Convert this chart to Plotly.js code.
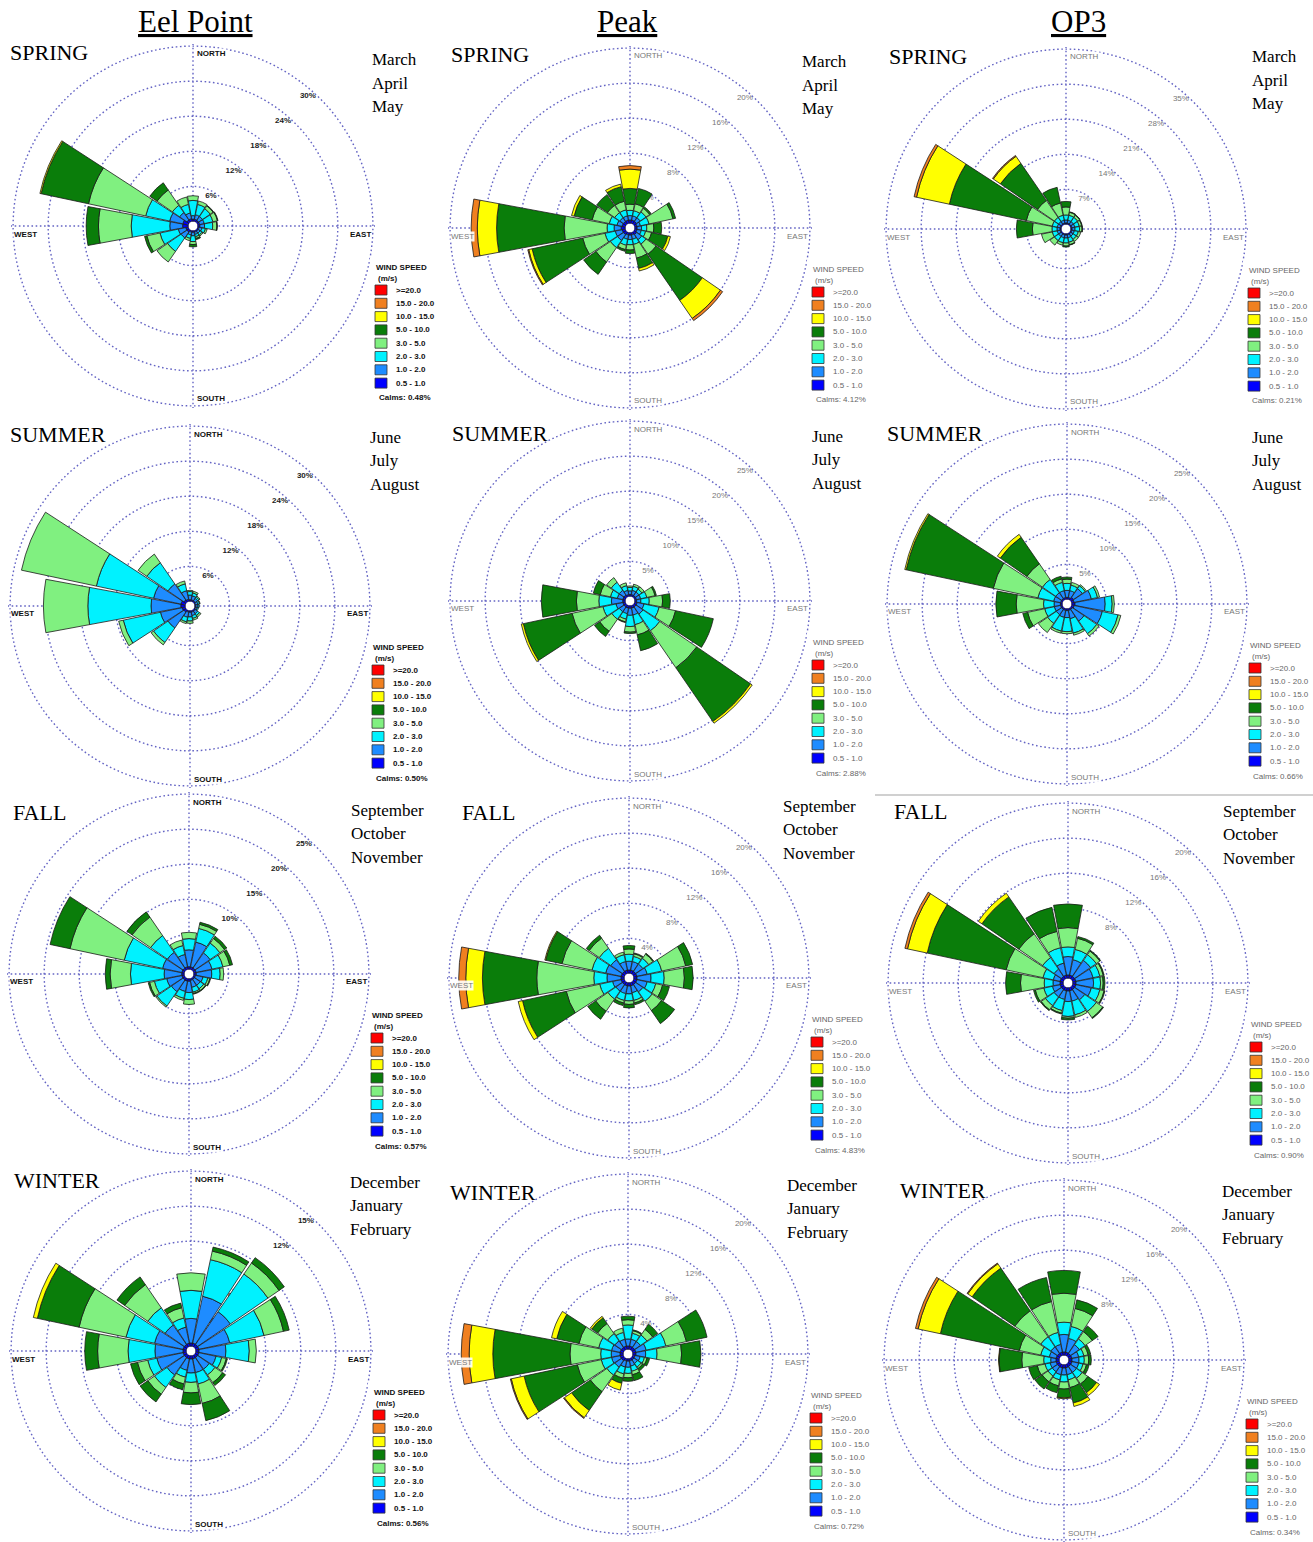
<!DOCTYPE html>
<html><head><meta charset="utf-8">
<script src="https://cdn.plot.ly/plotly-3.0.1.min.js"></script>
<style>html,body{margin:0;padding:0;background:#fff}#chart{width:1313px;height:1542px}</style>
</head><body><div id="chart"></div>
<script>
// 16 compass directions (clockwise from north)
const directions = ['N','NNE','NE','ENE','E','ESE','SE','SSE','S','SSW','SW','WSW','W','WNW','NW','NNW'];
const directionAngles = [0,22.5,45,67.5,90,112.5,135,157.5,180,202.5,225,247.5,270,292.5,315,337.5];
// wind speed classes (m/s), lowest first
const speedBins = ['0.5 - 1.0','1.0 - 2.0','2.0 - 3.0','3.0 - 5.0','5.0 - 10.0','10.0 - 15.0','15.0 - 20.0','>=20.0'];
const speedColors = ['#0000ff','#1e8cff','#00f2ff','#80f080','#0a7d0a','#ffff00','#f08020','#ff0000'];

// frequency (%) per direction row: [0.5-1, 1-2, 2-3, 3-5, 5-10, 10-15, 15-20, >=20]
const eelSpring = [
 [.4,.6,2.6,.8,0,0,0,0],[.4,.8,1.8,.6,0,0,0,0],[.4,.8,1.6,.6,.1,0,0,0],[.4,.8,1.5,.8,.1,0,0,0],
 [.4,.8,1.4,.7,.1,0,0,0],[.3,.5,.6,.3,0,0,0,0],[.3,.4,.4,.2,0,0,0,0],[.3,.4,.4,.3,.2,0,0,0],
 [.3,.6,1.0,.5,.4,0,0,0],[.3,.5,.6,.4,0,0,0,0],[.5,1.2,2.8,2.2,0,0,0,0],[.5,1.3,3.2,2.3,.4,0,0,0],
 [1.0,2.2,6.6,5.6,2.1,0,0,0],[1.0,2.3,4.2,10.0,8.3,.2,0,0],[.5,1.5,1.5,3.2,1.5,0,0,0],[.5,1.0,1.5,1.3,0,0,0,0]];
const peakSpring = [
 [.4,.5,.6,.7,1.8,2.2,.4,0],[.4,.5,.6,.8,1.8,0,0,0],[.4,.5,.8,.5,.2,0,0,0],[.3,.4,1.0,2.8,.3,0,0,0],
 [.3,.5,.6,.8,.9,0,0,0],[.3,.5,.5,.7,1.9,.3,0,0],[.4,.7,.6,1.4,6.4,2.5,.3,0],[.3,.5,.6,1.6,1.2,.3,0,0],
 [.3,.5,.6,.6,.4,0,0,0],[.3,.5,.7,.5,.2,0,0,0],[.4,.8,1.0,2.0,1.7,0,0,0],[.4,.8,1.2,2.6,5.9,.4,.1,0],
 [.5,.8,.8,4.9,7.7,2.2,.7,0],[.4,.6,.9,2.0,2.1,.3,0,0],[.4,.5,.7,1.0,1.5,0,0,0],[.4,.5,.7,1.0,1.7,.3,0,0]];
const op3Spring = [
 [.3,.6,1.0,1.6,1.1,0,0,0],[.3,.6,1.0,.6,.1,0,0,0],[.3,.6,1.0,.5,.1,0,0,0],[.3,.6,.9,.5,.1,0,0,0],
 [.3,.6,.9,.5,.1,0,0,0],[.3,.5,.8,.5,0,0,0,0],[.3,.5,.8,.5,0,0,0,0],[.3,.6,.9,.5,.1,0,0,0],
 [.3,.6,1.0,.6,.2,0,0,0],[.3,.6,1.0,.5,0,0,0,0],[.3,.6,1.0,1.1,0,0,0,0],[.3,.6,1.0,2.2,0,0,0,0],
 [.3,.6,1.0,3.9,3.2,0,0,0],[.3,.6,1.0,5.3,15.7,6.7,.5,0],[.3,.6,1.0,4.1,9.0,1.7,.2,0],[.3,.6,1.0,2.5,3.2,0,0,0]];
const eelSummer = [
 [.3,.8,.6,.2,0,0,0,0],[.3,.7,.5,.3,0,0,0,0],[.3,.5,.3,.2,0,0,0,0],[.2,.4,.3,.1,0,0,0,0],
 [.2,.4,.2,0,0,0,0,0],[.2,.3,.2,0,0,0,0,0],[.3,.5,.4,.3,0,0,0,0],[.3,.6,.5,.3,0,0,0,0],
 [.3,.8,.7,.4,0,0,0,0],[.3,.9,.8,.3,0,0,0,0],[.5,3.3,3.0,.5,0,0,0,0],[.6,3.8,6.5,.8,0,0,0,0],
 [.8,5.1,10.8,7.6,0,0,0,0],[.8,4.8,10.0,13.1,0,0,0,0],[.5,3.3,4.4,1.8,0,0,0,0],[.4,1.5,1.2,.5,0,0,0,0]];
const peakSummer = [
 [.3,.5,.5,.2,0,0,0,0],[.3,.6,.6,.3,0,0,0,0],[.3,.6,.5,.4,0,0,0,0],[.3,.6,.9,1.2,.2,0,0,0],
 [.3,.6,1.2,1.9,1.1,0,0,0],[.4,1.0,2.2,2.4,5.5,0,0,0],[.4,1.2,2.9,6.4,9.3,.3,0,0],[.4,1.0,1.4,1.5,2.3,0,0,0],
 [.4,1.0,1.6,.8,.2,0,0,0],[.4,.8,.8,.4,.1,0,0,0],[.4,.8,1.3,2.1,.9,0,0,0],[.4,1.0,1.9,4.5,7.1,.3,0,0],
 [.4,1.6,1.8,3.2,5.0,0,0,0],[.4,.8,1.0,1.5,1.0,0,0,0],[.4,.8,1.4,.8,0,0,0,0],[.3,.6,.7,.4,0,0,0,0]];
const op3Summer = [
 [.3,1.0,1.0,.6,.3,0,0,0],[.3,1.0,.8,.4,0,0,0,0],[.5,1.5,.5,.2,0,0,0,0],[.4,2.5,.9,.3,0,0,0,0],
 [.5,4.3,1.0,.3,0,0,0,0],[.4,4.1,2.3,.4,0,0,0,0],[.3,2.0,2.2,.4,0,0,0,0],[.3,1.2,2.1,.3,0,0,0,0],
 [.3,1.0,2.0,.3,0,0,0,0],[.3,1.0,2.0,.3,0,0,0,0],[.3,.9,1.5,1.6,0,0,0,0],[.3,.9,1.4,2.5,.7,0,0,0],
 [.3,.9,1.5,3.9,2.9,0,0,0],[.3,1.0,2.3,6.5,12.7,.2,0,0],[.3,1.0,2.3,2.7,4.6,.5,0,0],[.3,1.0,1.2,.5,.4,0,0,0]];
const eelFall = [
 [.4,2.4,1.6,.9,0,0,0,0],[.4,3.6,2.0,.6,.3,0,0,0],[.4,2.6,1.7,.8,.4,0,0,0],[.4,2.3,1.6,1.0,.4,0,0,0],
 [.4,2.2,1.2,.5,0,0,0,0],[.3,1.1,.7,.3,.1,0,0,0],[.3,1.0,.6,.3,.1,0,0,0],[.3,1.0,.7,.2,.1,0,0,0],
 [.4,1.6,1.0,.7,0,0,0,0],[.4,1.5,1.0,.3,0,0,0,0],[.4,2.0,2.5,.2,0,0,0,0],[.4,2.2,1.8,.7,.2,0,0,0],
 [.4,2.5,4.8,2.9,.7,0,0,0],[.4,2.8,5.6,7.9,2.9,0,0,0],[.4,2.7,2.9,3.2,.9,0,0,0],[.4,1.8,1.3,.8,0,0,0,0]];
const peakFall = [
 [.4,1.0,.8,.6,.4,0,0,0],[.4,1.0,.6,.3,.1,0,0,0],[.4,1.0,.8,.6,.1,0,0,0],[.4,1.2,1.7,2.8,.8,0,0,0],
 [.4,1.6,1.5,2.3,1.0,0,0,0],[.4,1.2,1.0,.8,.8,0,0,0],[.4,1.0,1.3,1.3,1.8,0,0,0],[.4,.8,.9,.3,.2,0,0,0],
 [.4,.9,.8,.4,.4,0,0,0],[.4,.9,.8,.3,.3,0,0,0],[.4,.9,1.1,1.7,1.1,0,0,0],[.4,1.0,1.5,3.9,5.1,.5,0,0],
 [.4,1.6,1.5,6.5,6.2,1.9,.8,0],[.4,1.8,1.6,3.5,1.9,.1,0,0],[.4,1.6,1.6,1.4,.4,0,0,0],[.4,1.0,.8,.3,0,0,0,0]];
const op3Fall = [
 [.4,2.1,1.1,2.2,2.7,0,0,0],[.4,1.8,1.2,1.3,.2,0,0,0],[.4,2.2,.8,.5,.1,0,0,0],[.4,2.0,.8,.4,.1,0,0,0],
 [.4,2.0,.8,.3,.2,0,0,0],[.4,1.8,1.0,.5,.1,0,0,0],[.4,1.4,1.6,.9,.1,0,0,0],[.4,1.2,1.6,.3,0,0,0,0],
 [.4,1.2,1.7,.2,.2,0,0,0],[.4,1.0,1.3,.3,.1,0,0,0],[.4,1.0,1.2,.6,.1,0,0,0],[.4,.9,1.0,1.0,.2,0,0,0],
 [.4,.8,1.0,2.7,1.7,0,0,0],[.4,.8,1.2,4.3,9.2,2.3,.3,0],[.4,1.0,1.6,3.3,5.1,.5,0,0],[.4,1.4,1.8,1.9,2.8,0,0,0]];
const eelWinter = [
 [.3,2.1,2.4,1.5,0,0,0,0],[.3,4.1,3.2,.75,.35,0,0,0],[.3,3.4,3.9,1.15,.55,0,0,0],[.3,2.7,3.0,1.7,.5,0,0,0],
 [.3,2.3,2.0,.6,0,0,0,0],[.3,1.5,.5,.4,.1,0,0,0],[.3,1.2,.6,.8,.3,0,0,0],[.3,1.2,1.0,1.7,1.5,0,0,0],
 [.3,1.2,.8,.9,1.0,0,0,0],[.3,1.0,.6,.6,.5,0,0,0],[.3,1.8,1.3,.7,.8,0,0,0],[.3,2.3,.8,.9,.6,0,0,0],
 [.3,2.4,2.3,2.6,1.1,0,0,0],[.3,2.5,2.5,4.1,3.65,.35,0,0],[.3,2.0,1.8,2.4,.8,0,0,0],[.3,1.4,.8,.9,.4,0,0,0]];
const peakWinter = [
 [.4,.8,1.6,.6,.4,0,0,0],[.4,.8,.7,.3,.1,0,0,0],[.4,.8,.9,.8,.7,0,0,0],[.4,1.2,2.3,2.4,2.4,0,0,0],
 [.4,1.1,1.3,2.8,2.2,0,0,0],[.3,.6,.5,.3,.3,0,0,0],[.3,.5,.5,.2,.3,0,0,0],[.3,.6,.6,.4,.7,0,0,0],
 [.3,.7,.7,.5,.4,0,0,0],[.3,.7,.8,.5,.6,.8,0,0],[.4,.9,1.1,2.3,2.6,1.0,.1,0],[.4,1.0,1.2,2.8,6.2,1.5,.1,0],
 [.4,1.0,1.2,3.5,8.8,2.7,.9,0],[.4,1.0,1.5,2.3,2.6,.6,0,0],[.4,.9,1.0,1.4,.8,.2,0,0],[.4,.8,.8,.5,0,0,0,0]];
const op3Winter = [
 [.4,2.0,1.4,3.3,2.6,0,0,0],[.4,1.6,1.4,2.1,1.0,0,0,0],[.4,1.2,.8,1.0,.8,0,0,0],[.4,.8,.6,.5,.3,0,0,0],
 [.4,.8,.6,.5,.3,0,0,0],[.4,.8,.5,.4,.3,0,0,0],[.4,.8,.8,.8,1.2,.4,0,0],[.4,.8,.6,.9,1.8,.4,0,0],
 [.4,.8,.8,.8,1.0,.1,0,0],[.4,.8,.6,.7,.8,0,0,0],[.4,.7,.6,.8,1.0,0,0,0],[.4,.7,.6,.9,1.0,0,0,0],
 [.4,.6,.8,2.5,2.6,.05,0,0],[.4,.8,1.0,2.5,9.2,2.6,.3,0],[.4,.9,1.4,3.6,5.9,.6,.1,0],[.4,.9,1.4,3.6,2.8,0,0,0]];

const siteNames = ['Eel Point','Peak','OP3'];
const calmValues = ['0.48%','4.12%','0.21%','0.50%','2.88%','0.66%','0.57%','4.83%','0.90%','0.56%','0.72%','0.34%'];
const radialMax = [30,20,35,30,25,25,25,20,20,15,20,20];
const radialStep = [6,4,7,6,5,5,5,4,4,3,4,4];
const seasonNames = ['SPRING','SUMMER','FALL','WINTER'];
const seasonMonths = [['March','April','May'],['June','July','August'],['September','October','November'],['December','January','February']];

// layout configuration (pixel positions of each rose)
const W = 1313, H = 1542, R = 182;
const px = x => x / W, py = y => 1 - y / H;
const panels = [
 {data:eelSpring, cx:193, cy:226, sx:8, sy:53, mx:370, my:60, style:'bold'},
 {data:peakSpring, cx:630, cy:228, sx:449, sy:55, mx:800, my:62, style:'gray'},
 {data:op3Spring, cx:1066, cy:229, sx:887, sy:57, mx:1250, my:57, style:'gray'},
 {data:eelSummer, cx:190, cy:606, sx:8, sy:434, mx:368, my:437, style:'bold'},
 {data:peakSummer, cx:630, cy:601, sx:450, sy:433, mx:810, my:436, style:'gray'},
 {data:op3Summer, cx:1067, cy:604, sx:885, sy:433, mx:1250, my:437, style:'gray'},
 {data:eelFall, cx:189, cy:974, sx:11, sy:812, mx:349, my:810, style:'bold'},
 {data:peakFall, cx:629, cy:978, sx:460, sy:812, mx:781, my:806, style:'gray'},
 {data:op3Fall, cx:1068, cy:983, sx:892, sy:811, mx:1221, my:811, style:'gray'},
 {data:eelWinter, cx:191, cy:1351, sx:12, sy:1180, mx:348, my:1182, style:'bold'},
 {data:peakWinter, cx:628, cy:1354, sx:448, sy:1192, mx:785, my:1185, style:'gray'},
 {data:op3Winter, cx:1064, cy:1360, sx:898, sy:1190, mx:1220, my:1191, style:'gray'}
];

const gridCol = '#6464c4';
const gridDash = '1.6px,2.6px';
const serif = 'Liberation Serif, Times New Roman, serif';
const sans = 'Arial, Liberation Sans, sans-serif';
const traces = [];
const layout = {
  width: W, height: H, margin:{l:0,r:0,t:0,b:0},
  paper_bgcolor:'#ffffff', plot_bgcolor:'#ffffff', showlegend:false,
  annotations: [], shapes: []
};

// column titles
const titleX = [196, 627, 1078];
siteNames.forEach((s,i)=>{
  layout.annotations.push({xref:'paper', yref:'paper', x:px(titleX[i]), y:py(22), xanchor:'center', yanchor:'middle',
    text:'<u>'+s+'</u>', showarrow:false, font:{family:serif, size:31, color:'#000'}});
});
// separator line above OP3 fall panel
layout.shapes.push({type:'line', xref:'paper', yref:'paper', x0:px(875), x1:px(1313), y0:py(795), y1:py(795), line:{color:'#d0d0d0', width:2}});

panels.forEach((p,i)=>{
  const id = i === 0 ? 'polar' : 'polar' + (i+1);
  const bold = p.style === 'bold';
  const txtCol = bold ? '#111' : '#666';
  for (let b = 0; b < speedBins.length; b++) {
    const r = p.data.map(row => row[b] > 0 ? row[b] : null);
    traces.push({type:'barpolar', subplot:id, r:r, theta:directionAngles, width:21,
      name:speedBins[b], marker:{color:speedColors[b], line:{color:'#1a1a1a', width:0.8}},
      hoverinfo:'skip', showlegend:false});
  }
  const tv = [], tt = [];
  for (let v = radialStep[i]; v <= radialMax[i] + 1e-9; v += radialStep[i]) { tv.push(v); tt.push(Math.round(v) + '%'); }
  layout[id] = {
    domain:{x:[px(p.cx-R), px(p.cx+R)], y:[Math.max(0, py(p.cy+R)), Math.min(1, py(p.cy-R))]},
    hole:0.025, bgcolor:'rgba(0,0,0,0)', barmode:'stack',
    radialaxis:{range:[0, radialMax[i]*1.012], tickvals:tv, ticktext:tt, angle:45, tickangle:45, side:'counterclockwise',
      showline:false, ticks:'', showgrid:true, gridcolor:gridCol, griddash:gridDash, gridwidth:1.4, layer:'below traces',
      tickfont:{family:sans, size:8, color: bold ? '#222' : '#777', weight: bold ? 'bold' : 'normal'}},
    angularaxis:{rotation:90, direction:'clockwise', thetaunit:'degrees', tickvals:[0,90,180,270],
      showticklabels:false, ticks:'', showline:false, showgrid:true, gridcolor:gridCol, griddash:gridDash, gridwidth:1.4,
      layer:'below traces'}
  };
  // compass labels
  const cf = {family:sans, size:8, color: bold ? '#111' : '#777', weight: bold ? 'bold' : 'normal'};
  const comp = [['NORTH', p.cx+3, p.cy-172, 'left'], ['SOUTH', p.cx+3, p.cy+173, 'left'],
                ['WEST', p.cx-180, p.cy+8, 'left'], ['EAST', p.cx+179, p.cy+8, 'right']];
  comp.forEach(c => layout.annotations.push({xref:'paper', yref:'paper', x:px(c[1]), y:py(c[2]), xanchor:c[3], yanchor:'middle',
    text:c[0], showarrow:false, bgcolor:'rgba(255,255,255,0.9)', borderpad:0, font:cf}));
  // season and months
  layout.annotations.push({xref:'paper', yref:'paper', x:px(p.sx), y:py(p.sy), xanchor:'left', yanchor:'middle',
    text:seasonNames[Math.floor(i/3)], showarrow:false, font:{family:serif, size:22, color:'#000'}});
  seasonMonths[Math.floor(i/3)].forEach((m,k)=>{
    layout.annotations.push({xref:'paper', yref:'paper', x:px(p.mx), y:py(p.my + k*23.5), xanchor:'left', yanchor:'middle',
      text:m, showarrow:false, font:{family:serif, size:17, color:'#000'}});
  });
  // legend block
  layout.shapes.push({type:'rect', xref:'paper', yref:'paper', x0:px(p.cx+177), x1:px(p.cx+244), y0:py(p.cy+180), y1:py(p.cy+32),
    fillcolor:'#ffffff', line:{width:0}, layer:'above'});
  const lf = {family:sans, size:8, color:txtCol, weight: bold ? 'bold' : 'normal'};
  layout.annotations.push({xref:'paper', yref:'paper', x:px(p.cx+181), y:py(p.cy+41), xanchor:'left', yanchor:'middle',
    text:'WIND SPEED', showarrow:false, font:lf});
  layout.annotations.push({xref:'paper', yref:'paper', x:px(p.cx+183), y:py(p.cy+52), xanchor:'left', yanchor:'middle',
    text:'(m/s)', showarrow:false, font:lf});
  for (let k = 0; k < speedBins.length; k++) {
    const b = speedBins.length - 1 - k;
    const yc = p.cy + 64 + k*13.3;
    layout.shapes.push({type:'rect', xref:'paper', yref:'paper', x0:px(p.cx+182), x1:px(p.cx+194), y0:py(yc+5), y1:py(yc-5),
      fillcolor:speedColors[b], line:{color:'#333', width:0.8}, layer:'above'});
    layout.annotations.push({xref:'paper', yref:'paper', x:px(p.cx+201), y:py(yc), xanchor:'left', yanchor:'middle',
      text:speedBins[b], showarrow:false, font:lf});
  }
  layout.annotations.push({xref:'paper', yref:'paper', x:px(p.cx+184), y:py(p.cy+172), xanchor:'left', yanchor:'middle',
    text:'Calms: ' + calmValues[i], showarrow:false, font:lf});
});

Plotly.newPlot('chart', traces, layout, {staticPlot:true, displayModeBar:false});
</script></body></html>
